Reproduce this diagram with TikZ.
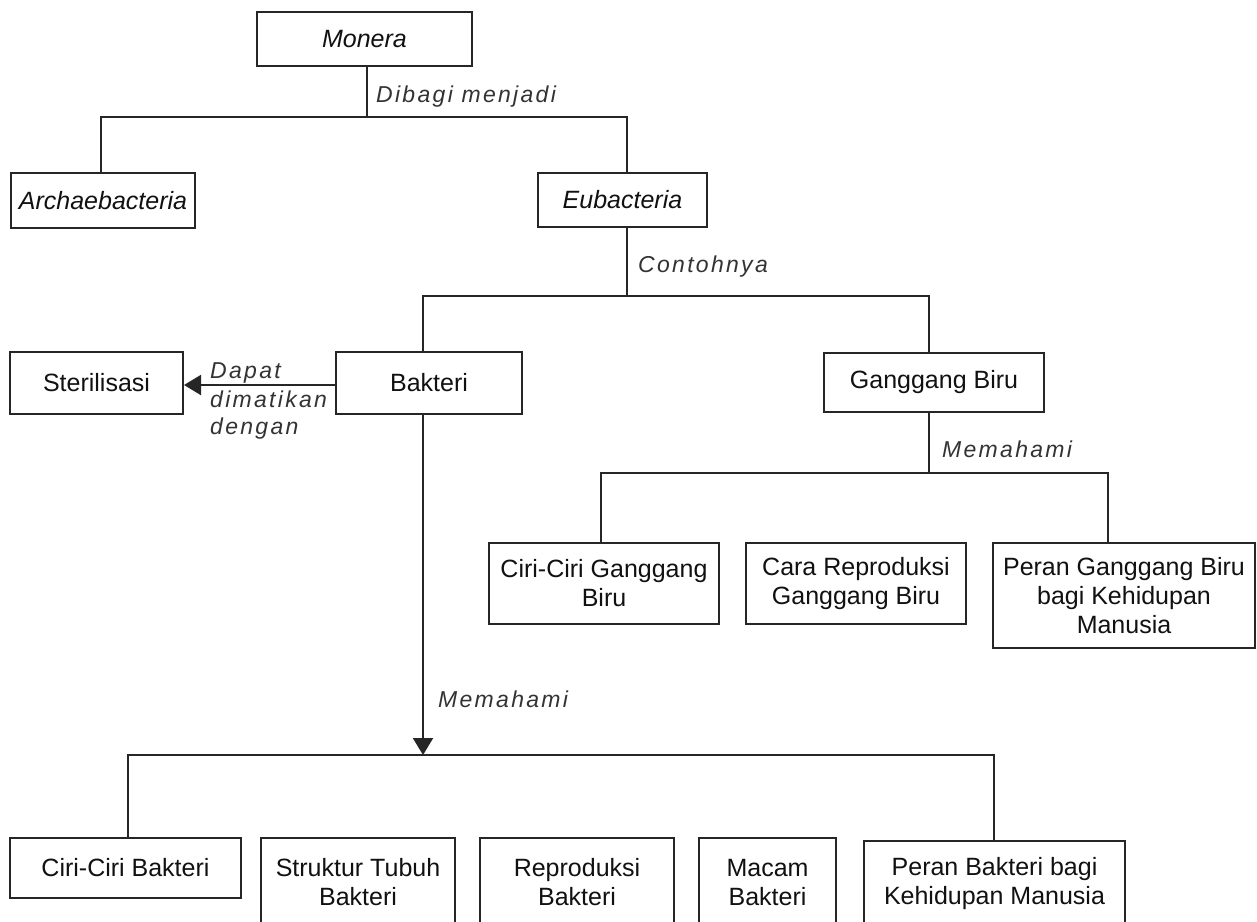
\documentclass[tikz,border=0pt]{standalone}
\usepackage{fontspec}
\setmainfont{Liberation Sans}
\newfontfamily\lblfont[LetterSpace=10]{Liberation Sans}
\usetikzlibrary{arrows.meta}
\definecolor{linec}{HTML}{262626}
\definecolor{lblc}{HTML}{333333}
\definecolor{txtc}{HTML}{111111}
\tikzset{
  cbox/.style={draw=linec, line width=2pt, inner sep=0pt, align=center, text=txtc,
    font=\fontsize{25}{29}\selectfont},
  conn/.style={draw=linec, line width=2pt},
  lbl/.style={inner sep=0pt, anchor=base west, text=lblc, font=\lblfont\itshape\fontsize{23}{28}\selectfont},
  tip/.style={-{Triangle[length=17pt,width=20pt]}}
}
\begin{document}
\begin{tikzpicture}[x=1pt,y=-1pt]
\useasboundingbox (0,0) rectangle (1257,921);
\clip (0,0) rectangle (1257,921);
\fill[white] (0,0) rectangle (1257,921);

% boxes
\node[cbox, minimum width=215pt, minimum height=54pt] (mon) at (364.5,39) {\itshape Monera};
\node[cbox, minimum width=184pt, minimum height=55pt] (arc) at (103,200.5) {\itshape Archaebacteria};
\node[cbox, minimum width=169pt, minimum height=54pt] (eub) at (622.5,200) {\itshape Eubacteria};
\node[cbox, minimum width=173pt, minimum height=62pt] (ste) at (96.5,383) {Sterilisasi};
\node[cbox, minimum width=186pt, minimum height=62pt] (bak) at (429,383) {Bakteri};
\node[cbox, minimum width=220pt, minimum height=59pt] (gan) at (934,382.5) {Ganggang Biru};
\node[cbox, minimum width=230pt, minimum height=81pt] (cg) at (604,583.5) {Ciri-Ciri Ganggang\\Biru};
\node[cbox, minimum width=220pt, minimum height=81pt] (crg) at (856,583.5) {Cara Reproduksi\\Ganggang Biru};
\node[cbox, minimum width=262pt, minimum height=105pt] (pg) at (1124,595.5) {Peran Ganggang Biru\\bagi Kehidupan\\Manusia};
\node[cbox, minimum width=231pt, minimum height=60pt] (cb) at (125.5,868) {Ciri-Ciri Bakteri};
\node[cbox, minimum width=194pt, minimum height=89pt] (stb) at (358,882.5) {Struktur Tubuh\\Bakteri};
\node[cbox, minimum width=194pt, minimum height=89pt] (rb) at (577,882.5) {Reproduksi\\Bakteri};
\node[cbox, minimum width=137pt, minimum height=89pt] (mb) at (767.5,882.5) {Macam\\Bakteri};
\node[cbox, minimum width=261pt, minimum height=85pt] (pb) at (994.5,883.5) {Peran Bakteri bagi\\Kehidupan Manusia};

% junction coordinates
\coordinate (j1) at (367,117);
\coordinate (xa) at (101,0);
\coordinate (xe) at (627,0);
\coordinate (j2) at (627,296);
\coordinate (xb) at (423,0);
\coordinate (xg) at (929,0);
\coordinate (j3) at (929,473);
\coordinate (x31) at (601,0);
\coordinate (x32) at (852,0);
\coordinate (x33) at (1108,0);
\coordinate (j4) at (423,755);
\coordinate (x41) at (128,0);
\coordinate (x42) at (351,0);
\coordinate (x43) at (575,0);
\coordinate (x44) at (763,0);
\coordinate (x45) at (994,0);
\coordinate (ya) at (0,385);

% Monera
\draw[conn] (mon.south -| j1) -- (j1);
\draw[conn] (arc.north -| xa) |- (j1) -| (eub.north -| xe);
% Eubacteria
\draw[conn] (eub.south -| j2) -- (j2);
\draw[conn] (bak.north -| xb) |- (j2) -| (gan.north -| xg);
% Ganggang Biru
\draw[conn] (gan.south -| j3) -- (j3);
\draw[conn] (cg.north -| x31) |- (j3) -| (pg.north -| x33);
\draw[conn] (crg.north -| x32) -- (crg.north -| x32 |- j3);
% Bakteri -> Sterilisasi
\draw[conn, tip] (bak.west |- ya) -- (ste.east |- ya);
% Bakteri -> children
\draw[conn, tip] (bak.south -| j4) -- (j4);
\draw[conn] (cb.north -| x41) |- (j4) -| (pb.north -| x45);
\draw[conn] (stb.north -| x42) -- (stb.north -| x42 |- j4);
\draw[conn] (rb.north -| x43) -- (rb.north -| x43 |- j4);
\draw[conn] (mb.north -| x44) -- (mb.north -| x44 |- j4);

% labels
\node[lbl] (l1) at (376,102) {Dibagi menjadi};
\node[lbl] (l2) at (638,272) {Contohnya};
\node[lbl] (l3) at (942,457) {Memahami};
\node[lbl] (l4) at (438,707) {Memahami};
\node[lbl] (l5a) at (210,378) {Dapat};
\node[lbl] (l5b) at (210,407) {dimatikan};
\node[lbl] (l5c) at (210,434) {dengan};
\end{tikzpicture}
\end{document}
